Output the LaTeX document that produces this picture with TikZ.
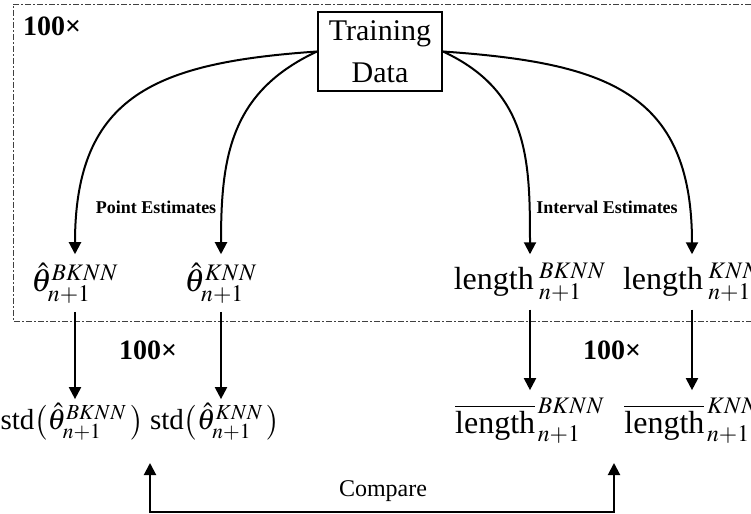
\documentclass[tikz,border=0pt]{standalone}
\usepackage{mathptmx}
\usepackage{fontspec}
\setmainfont{Liberation Serif}
\usetikzlibrary{arrows.meta,positioning}

\begin{document}
\begin{tikzpicture}
[x=0.5pt, y=-0.5pt, node distance=69.5pt,
 >={Triangle[length=6pt,width=6pt]},
 conn/.style={line width=1pt},
 frame/.style={line width=0.5pt, black!75, dash pattern=on 3pt off 1.2pt on 0.6pt off 1.2pt},
 est/.style={inner sep=4pt, font=\fontsize{16}{19}\selectfont},
 stdev/.style={inner sep=2pt, font=\fontsize{14.5}{17}\selectfont},
 times/.style={font=\fontsize{14}{16}\selectfont\bfseries},
 lbl/.style={font=\fontsize{9}{11}\selectfont\bfseries}]

\useasboundingbox (0,0) rectangle (751,514);

\draw[frame] (751,4) -- (13,4) -- (13,321) -- (751,321);

\node[draw, line width=1pt, minimum width=62pt, minimum height=39.5pt, align=center,
  font=\fontsize{15}{20.75}\selectfont] (D) at (380,51.5) {Training\\Data};

\node[times] (R1) at (52,26) {100×};
\node[times] (R2) at (148,350) {100×};
\node[times] (R3) at (612,350) {100×};

\node[est] (TB) at (75,283) {$\hat{\theta}^{BKNN}_{n+1}$};
\node[est] (TK) at (221,283) {$\hat{\theta}^{KNN}_{n+1}$};
\node[est] (LB) at (530,282) {length\,$^{BKNN}_{n+1}$};
\node[est] (LK) at (692,282) {length\,$^{KNN}_{n+1}$};

\node[stdev, below of=TB, xshift=-1.5pt] (SB) {std$\left(\hat{\theta}^{BKNN}_{n+1}\,\right)$};
\node[stdev, below of=TK, xshift=-3pt] (SK) {std$\left(\hat{\theta}^{KNN}_{n+1}\,\right)$};
\node[est, below of=LB] (MB) {$\overline{\mbox{length}}^{\,BKNN}_{\,n+1}$};
\node[est, below of=LK] (MK) {$\overline{\mbox{length}}^{\,KNN}_{\,n+1}$};

\node[lbl] (P) at (156,207) {Point Estimates};
\node[lbl] (I) at (607,207) {Interval Estimates};

\draw[->, conn] (D.west) to[out=184, in=90, looseness=1.3] (TB.north);
\draw[->, conn] (D.west) to[out=205, in=90, looseness=1.1] (TK.north);
\draw[->, conn] (D.east) to[out=-25, in=90, looseness=1.1] (LB.north);
\draw[->, conn] (D.east) to[out=-4, in=90, looseness=1.3] (LK.north);

\draw[->, conn] (TB.south) -- (TB.south |- SB.north);
\draw[->, conn] (TK.south) -- (TK.south |- SK.north);
\draw[->, conn] (LB) -- (MB);
\draw[->, conn] (LK) -- (MK);

\coordinate (CL) at (150,463);
\coordinate (CR) at (614,463);
\draw[<->, conn] (CL) -- ++(0,49) -| (CR);
\node[font=\fontsize{12}{14}\selectfont] (C) at (383,491) {Compare};

\end{tikzpicture}
\end{document}
